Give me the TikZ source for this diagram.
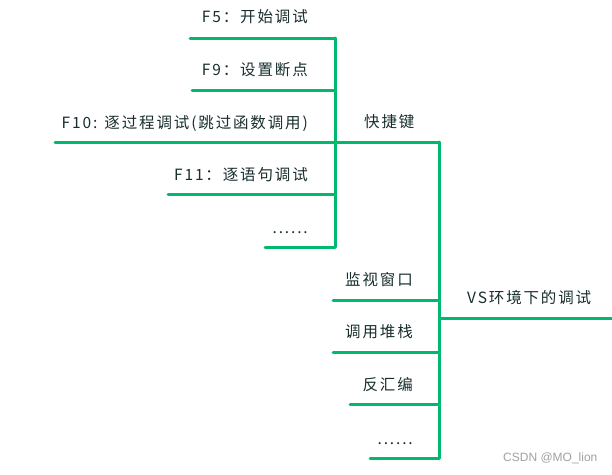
\documentclass[tikz,border=0pt]{standalone}
\usepackage{fontspec}
\newfontfamily\cjk[LetterSpace=12]{Noto Sans CJK SC}
\newfontfamily\wm{Liberation Sans}
\definecolor{branchc}{RGB}{0,185,110}
\definecolor{txtc}{RGB}{25,45,45}
\definecolor{wmc}{RGB}{160,160,160}
\begin{document}
\begin{tikzpicture}[x=1pt,y=-1pt,
  lbl/.style={font=\cjk\fontsize{15.5}{18}\selectfont, text=txtc, inner sep=0pt},
  branch/.style={draw=branchc, line width=3pt, line cap=round}]
\useasboundingbox (0,0) rectangle (612,474);
% labels, top group
\node[lbl, anchor=east] (f5) at (308,17) {F5：开始调试};
\node[lbl, anchor=east] (f9) at (308,70) {F9：设置断点};
\node[lbl, anchor=east] (f10) at (308,123) {F10: 逐过程调试(跳过函数调用)};
\node[lbl, anchor=east] (f11) at (308,175) {F11：逐语句调试};
\node[lbl, anchor=base east] (dt) at (308,233) {......};
\node[lbl, anchor=west] (kjj) at (364,122) {快捷键};
% labels, bottom group
\node[lbl, anchor=east] (jsck) at (413,280) {监视窗口};
\node[lbl, anchor=east] (dyzz) at (413,332) {调用堆栈};
\node[lbl, anchor=east] (fhb) at (413,385) {反汇编};
\node[lbl, anchor=base east] (db) at (413,444) {......};
\node[lbl, anchor=west] (root) at (467,298) {VS环境下的调试};
\node[font=\wm\fontsize{12}{14}\selectfont, text=wmc, inner sep=0pt, anchor=west] (wmk) at (503,458) {CSDN @MO\_lion};
% coordinates
\coordinate (f5l) at (190,38);   \coordinate (f5r) at (335,38);
\coordinate (f9l) at (192,90);   \coordinate (f9r) at (335,90);
\coordinate (f10l) at (55,142);  \coordinate (f10r) at (335,142);
\coordinate (f11l) at (168,194); \coordinate (f11r) at (335,194);
\coordinate (dtl) at (265,247);  \coordinate (dtr) at (335,247);
\coordinate (kr) at (439,142);
\coordinate (jl) at (333,300);   \coordinate (jr) at (439,300);
\coordinate (yl) at (333,352);   \coordinate (yr) at (439,352);
\coordinate (hl) at (350,404);   \coordinate (hr) at (439,404);
\coordinate (dbl) at (370,458);  \coordinate (dbr) at (439,458);
\coordinate (rl) at (439,318);   \coordinate (rr) at (612,318);
% lines
\draw[branch] (f5l) -- (f5r);
\draw[branch] (f9l) -- (f9r);
\draw[branch] (f10l) -- (f10r);
\draw[branch] (f11l) -- (f11r);
\draw[branch] (dtl) -- (dtr);
\draw[branch] (f5r) -- (dtr);
\draw[branch] (f10r) -- (kr);
\draw[branch] (jl) -- (jr);
\draw[branch] (yl) -- (yr);
\draw[branch] (hl) -- (hr);
\draw[branch] (dbl) -- (dbr);
\draw[branch] (kr) -- (dbr);
\draw[branch, line cap=butt] (rl) -- (rr);
\end{tikzpicture}
\end{document}
